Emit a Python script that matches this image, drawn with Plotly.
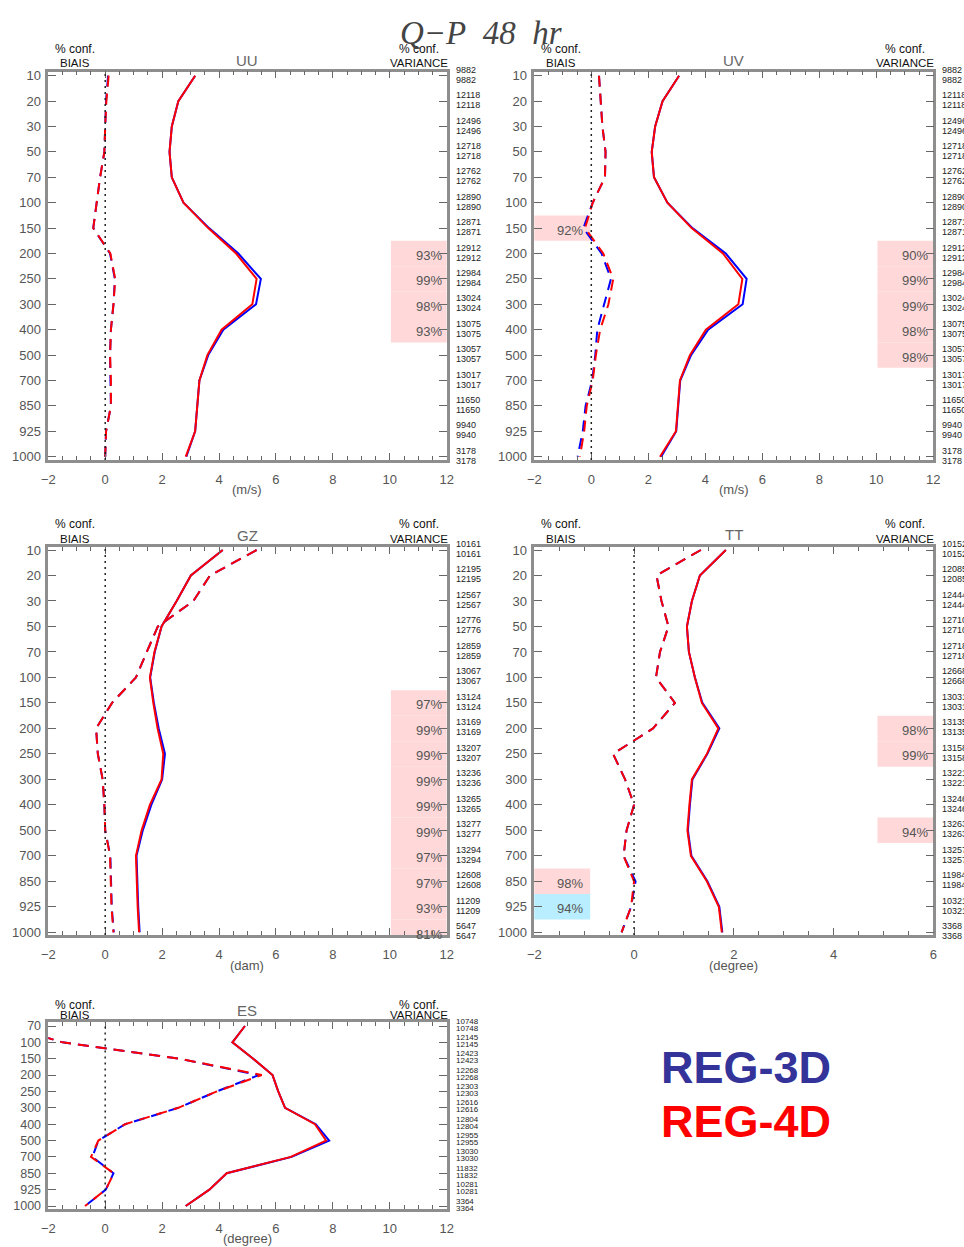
import plotly.graph_objects as go

W, H = 964, 1247

# ---------------- data ----------------
levels = [10, 20, 30, 50, 70, 100, 150, 200, 250, 300, 400, 500, 700, 850, 925, 1000]
es_levels = [70, 100, 150, 200, 250, 300, 400, 500, 700, 850, 925, 1000]

uu_std_3d = [3.16, 2.57, 2.34, 2.26, 2.34, 2.75, 3.65, 4.68, 5.47, 5.30, 4.15, 3.62, 3.31, 3.24, 3.16, 2.85]
uu_std_4d = [3.16, 2.57, 2.34, 2.26, 2.34, 2.75, 3.62, 4.60, 5.32, 5.17, 4.09, 3.59, 3.31, 3.24, 3.16, 2.83]
uu_bias_3d = [0.10, 0.03, 0.00, -0.03, -0.18, -0.30, -0.42, 0.17, 0.34, 0.29, 0.20, 0.17, 0.19, 0.20, 0.03, 0.00]
uu_bias_4d = [0.12, 0.04, 0.00, -0.03, -0.18, -0.30, -0.42, 0.18, 0.35, 0.29, 0.20, 0.17, 0.20, 0.20, 0.03, 0.00]
uu_counts = [9882, 12118, 12496, 12718, 12762, 12890, 12871, 12912, 12984, 13024, 13075, 13057, 13017, 11650, 9940, 3178]
uu_var_sig_levels = [200, 250, 300, 400]
uu_var_sig_pct = [93, 99, 98, 93]
uu_bias_sig_levels = []
uu_bias_sig_pct = []
uu_bias_sig_sign = []

uv_std_3d = [3.08, 2.50, 2.24, 2.12, 2.20, 2.67, 3.55, 4.72, 5.45, 5.31, 4.10, 3.50, 3.12, 3.05, 2.98, 2.45]
uv_std_4d = [3.08, 2.50, 2.24, 2.12, 2.20, 2.67, 3.52, 4.62, 5.30, 5.16, 4.02, 3.46, 3.11, 3.05, 2.97, 2.41]
uv_bias_3d = [0.27, 0.33, 0.39, 0.50, 0.48, 0.05, -0.28, 0.36, 0.69, 0.45, 0.21, 0.14, 0.03, -0.20, -0.30, -0.48]
uv_bias_4d = [0.27, 0.33, 0.39, 0.50, 0.48, 0.05, -0.22, 0.42, 0.77, 0.60, 0.31, 0.16, 0.05, -0.16, -0.25, -0.40]
uv_counts = [9882, 12118, 12496, 12718, 12762, 12890, 12871, 12912, 12984, 13024, 13075, 13057, 13017, 11650, 9940, 3178]
uv_var_sig_levels = [200, 250, 300, 400, 500]
uv_var_sig_pct = [90, 99, 99, 98, 98]
uv_bias_sig_levels = [150]
uv_bias_sig_pct = [92]
uv_bias_sig_sign = ["+"]

gz_std_3d = [4.13, 3.01, 2.51, 1.98, 1.74, 1.58, 1.71, 1.88, 2.10, 2.00, 1.62, 1.32, 1.10, 1.12, 1.16, 1.21]
gz_std_4d = [4.13, 3.01, 2.51, 1.98, 1.73, 1.57, 1.69, 1.84, 2.04, 1.98, 1.57, 1.28, 1.08, 1.10, 1.14, 1.19]
gz_bias_3d = [5.32, 3.68, 3.10, 1.85, 1.46, 1.08, 0.24, -0.32, -0.26, -0.09, -0.03, 0.00, 0.18, 0.21, 0.23, 0.30]
gz_bias_4d = [5.32, 3.68, 3.10, 1.85, 1.46, 1.08, 0.24, -0.32, -0.26, -0.09, -0.03, 0.00, 0.17, 0.20, 0.22, 0.29]
gz_counts = [10161, 12195, 12567, 12776, 12859, 13067, 13124, 13169, 13207, 13236, 13265, 13277, 13294, 12608, 11209, 5647]
gz_var_sig_levels = [150, 200, 250, 300, 400, 500, 700, 850, 925, 1000]
gz_var_sig_pct = [97, 99, 99, 99, 99, 99, 97, 97, 93, 81]
gz_bias_sig_levels = []
gz_bias_sig_pct = []
gz_bias_sig_sign = []

tt_std_3d = [1.84, 1.32, 1.16, 1.06, 1.10, 1.22, 1.37, 1.71, 1.47, 1.17, 1.12, 1.08, 1.15, 1.47, 1.71, 1.77]
tt_std_4d = [1.84, 1.32, 1.16, 1.06, 1.10, 1.22, 1.36, 1.69, 1.46, 1.16, 1.11, 1.07, 1.14, 1.46, 1.70, 1.76]
tt_bias_3d = [1.34, 0.45, 0.55, 0.69, 0.52, 0.44, 0.82, 0.38, -0.42, -0.18, 0.00, -0.15, -0.21, 0.03, -0.06, -0.25]
tt_bias_4d = [1.34, 0.45, 0.55, 0.69, 0.52, 0.44, 0.82, 0.38, -0.42, -0.18, 0.00, -0.15, -0.21, 0.00, -0.06, -0.25]
tt_counts = [10152, 12085, 12444, 12710, 12718, 12668, 13031, 13135, 13158, 13221, 13246, 13263, 13257, 11984, 10321, 3368]
tt_var_sig_levels = [200, 250, 500]
tt_var_sig_pct = [98, 99, 94]
tt_bias_sig_levels = [850, 925]
tt_bias_sig_pct = [98, 94]
tt_bias_sig_sign = ["+", "-"]

es_std_3d = [4.91, 4.47, 5.20, 5.88, 6.08, 6.32, 7.40, 7.87, 6.55, 4.27, 3.66, 2.83]
es_std_4d = [4.91, 4.47, 5.20, 5.88, 6.08, 6.32, 7.37, 7.76, 6.52, 4.27, 3.66, 2.83]
es_bias_3d = [-3.4, -1.5, 2.6, 5.4, 3.92, 2.57, 0.70, -0.24, -0.45, 0.29, 0.02, -0.71]
es_bias_4d = [-3.4, -1.5, 2.6, 5.5, 3.92, 2.57, 0.70, -0.24, -0.50, 0.30, 0.02, -0.71]
es_counts = [10748, 12145, 12423, 12268, 12303, 12616, 12804, 12955, 13030, 11832, 10281, 3364]
es_var_sig_levels = []
es_var_sig_pct = []
es_bias_sig_levels = []
es_bias_sig_pct = []
es_bias_sig_sign = []

x_ticks_wide = [-2, 0, 2, 4, 6, 8, 10, 12]
x_ticks_tt = [-2, 0, 2, 4, 6]

# ---------------- styles / layout ----------------
BLUE = "#0000FF"
RED = "#FF0000"
PINK = "#FFD9D9"
CYAN = "#B8EEFF"
AXC = "#8E8E8E"
TXT = "#555555"
FONT = "Liberation Sans"

panels = [
    dict(name="UU", unit="(m/s)", levels=levels, xticks=x_ticks_wide,
         std3=uu_std_3d, std4=uu_std_4d, b3=uu_bias_3d, b4=uu_bias_4d, counts=uu_counts,
         vs=uu_var_sig_levels, vp=uu_var_sig_pct, bs=uu_bias_sig_levels, bp=uu_bias_sig_pct, bsg=uu_bias_sig_sign,
         frame=(48.3, 71.7, 446.7, 460.0), lvl=(75.7, 456.7), hdr=(49, 63, 60), unit_y=489, cfs=9),
    dict(name="UV", unit="(m/s)", levels=levels, xticks=x_ticks_wide,
         std3=uv_std_3d, std4=uv_std_4d, b3=uv_bias_3d, b4=uv_bias_4d, counts=uv_counts,
         vs=uv_var_sig_levels, vp=uv_var_sig_pct, bs=uv_bias_sig_levels, bp=uv_bias_sig_pct, bsg=uv_bias_sig_sign,
         frame=(534.3, 71.7, 933.3, 460.0), lvl=(75.7, 456.7), hdr=(49, 63, 60), unit_y=489, cfs=9),
    dict(name="GZ", unit="(dam)", levels=levels, xticks=x_ticks_wide,
         std3=gz_std_3d, std4=gz_std_4d, b3=gz_bias_3d, b4=gz_bias_4d, counts=gz_counts,
         vs=gz_var_sig_levels, vp=gz_var_sig_pct, bs=gz_bias_sig_levels, bp=gz_bias_sig_pct, bsg=gz_bias_sig_sign,
         frame=(48.3, 547.3, 446.7, 935.0), lvl=(550.0, 932.3), hdr=(524, 539, 535), unit_y=965, cfs=9),
    dict(name="TT", unit="(degree)", levels=levels, xticks=x_ticks_tt,
         std3=tt_std_3d, std4=tt_std_4d, b3=tt_bias_3d, b4=tt_bias_4d, counts=tt_counts,
         vs=tt_var_sig_levels, vp=tt_var_sig_pct, bs=tt_bias_sig_levels, bp=tt_bias_sig_pct, bsg=tt_bias_sig_sign,
         frame=(534.3, 547.3, 933.3, 935.0), lvl=(550.0, 932.3), hdr=(524, 539, 534), unit_y=965, cfs=9),
    dict(name="ES", unit="(degree)", levels=es_levels, xticks=x_ticks_wide,
         std3=es_std_3d, std4=es_std_4d, b3=es_bias_3d, b4=es_bias_4d, counts=es_counts,
         vs=es_var_sig_levels, vp=es_var_sig_pct, bs=es_bias_sig_levels, bp=es_bias_sig_pct, bsg=es_bias_sig_sign,
         frame=(48.3, 1022.3, 446.7, 1208.5), lvl=(1026.0, 1206.0), hdr=(1005, 1015, 1010), unit_y=1238, cfs=8),
]


def px(xp):
    return xp / W


def py(yp):
    return 1 - yp / H


fig = go.Figure()
layout = dict(width=W, height=H, margin=dict(l=0, r=0, t=0, b=0, pad=0, autoexpand=False),
              paper_bgcolor="white", plot_bgcolor="white", showlegend=False)
shapes = []
annotations = []

for i, p in enumerate(panels):
    n = i + 1
    xa = "x" if n == 1 else f"x{n}"
    ya = "y" if n == 1 else f"y{n}"
    xkey = "xaxis" if n == 1 else f"xaxis{n}"
    ykey = "yaxis" if n == 1 else f"yaxis{n}"
    lv = p["levels"]
    nl = len(lv)
    idx = list(range(nl))
    x0, y0, x1, y1 = p["frame"]
    l0, l1 = p["lvl"]
    per = (l1 - l0) / (nl - 1)
    rtop = -(l0 - y0) / per
    rbot = (nl - 1) + (y1 - l1) / per
    xr = (p["xticks"][0], p["xticks"][-1])

    layout[xkey] = dict(domain=[px(x0), px(x1)], anchor=ya, range=list(xr),
                        tickvals=p["xticks"], ticks="inside", ticklen=7, tickwidth=1.2, tickcolor="#666",
                        minor=dict(dtick=0.5, tick0=-2, ticks="inside", ticklen=4, tickcolor="#666", tickwidth=1),
                        showline=True, linecolor=AXC, linewidth=2.5, mirror="ticks",
                        showgrid=False, zeroline=False, ticklabelstandoff=6,
                        tickfont=dict(family=FONT, size=13, color=TXT))
    layout[ykey] = dict(domain=[py(y1), py(y0)], anchor=xa, range=[rbot, rtop],
                        tickvals=idx, ticktext=[str(v) for v in lv], ticks="inside", ticklen=8,
                        tickwidth=1.2, tickcolor="#666",
                        showline=True, linecolor=AXC, linewidth=2.5, mirror="ticks",
                        showgrid=False, zeroline=False, ticklabelstandoff=2,
                        tickfont=dict(family=FONT, size=13 if nl > 12 else 12.5, color=TXT))

    xdom = "x domain" if n == 1 else f"x{n} domain"
    ydom = "y domain" if n == 1 else f"y{n} domain"

    # significance boxes (variance on right, bias on left)
    for lvl_v, pct in zip(p["vs"], p["vp"]):
        k = lv.index(lvl_v)
        shapes.append(dict(type="rect", xref=xdom, yref=ya, x0=0.86, x1=1.0,
                           y0=max(k - 0.5, rtop), y1=min(k + 0.5, rbot),
                           fillcolor=PINK, line=dict(width=0), layer="below"))
        annotations.append(dict(xref=xdom, yref=ya, x=1.0, y=k, xanchor="right", yanchor="middle",
                                xshift=-3, yshift=-2, text=f"{pct}%", showarrow=False,
                                font=dict(family=FONT, size=13, color=TXT)))
    for lvl_v, pct, sg in zip(p["bs"], p["bp"], p["bsg"]):
        k = lv.index(lvl_v)
        shapes.append(dict(type="rect", xref=xdom, yref=ya, x0=0.0, x1=0.14,
                           y0=max(k - 0.5, rtop), y1=min(k + 0.5, rbot),
                           fillcolor=PINK if sg == "+" else CYAN, line=dict(width=0), layer="below"))
        annotations.append(dict(xref=xdom, yref=ya, x=0.14, y=k, xanchor="right", yanchor="middle",
                                xshift=-5, yshift=-2, text=f"{pct}%", showarrow=False,
                                font=dict(family=FONT, size=13, color=TXT)))

    # zero reference line
    shapes.append(dict(type="line", xref=xa, yref=ydom, x0=0, x1=0, y0=0, y1=1,
                       line=dict(color="#222", width=1.5, dash="2px,4px"), layer="above"))

    # bias (dashed) and std (solid)
    for vals, col in [(p["b3"], BLUE), (p["b4"], RED)]:
        fig.add_trace(go.Scatter(x=vals, y=idx, mode="lines", xaxis=xa, yaxis=ya,
                                 line=dict(color=col, width=2, dash="11px,7px"), hoverinfo="skip"))
    for vals, col in [(p["std3"], BLUE), (p["std4"], RED)]:
        fig.add_trace(go.Scatter(x=vals, y=idx, mode="lines", xaxis=xa, yaxis=ya,
                                 line=dict(color=col, width=2), hoverinfo="skip"))

    # counts on right side
    cfs = p["cfs"]
    up, dn = (6, -4) if nl > 12 else (5, -2)
    for k, c in enumerate(p["counts"]):
        for sh in (up, dn):
            annotations.append(dict(xref=xdom, yref=ya, x=1.0, y=k, xanchor="left", yanchor="middle",
                                    xshift=7, yshift=sh, text=str(c), showarrow=False,
                                    font=dict(family=FONT, size=cfs, color="#222")))

    # headers
    hy1, hy2, ty = p["hdr"]
    hfont = dict(family=FONT, size=12, color="#111")
    annotations += [
        dict(xref="paper", yref="paper", x=px(x0 + 27), y=py(hy1), text="%\u00a0conf.", showarrow=False,
             xanchor="center", yanchor="middle", font=hfont),
        dict(xref="paper", yref="paper", x=px(x0 + 27), y=py(hy2), text="BIAIS", showarrow=False,
             xanchor="center", yanchor="middle", font=dict(family=FONT, size=11.5, color="#111")),
        dict(xref="paper", yref="paper", x=px(x1 - 28), y=py(hy1), text="%\u00a0conf.", showarrow=False,
             xanchor="center", yanchor="middle", font=hfont),
        dict(xref="paper", yref="paper", x=px(x1 - 28), y=py(hy2), text="VARIANCE", showarrow=False,
             xanchor="center", yanchor="middle", font=dict(family=FONT, size=11.5, color="#111")),
        dict(xref="paper", yref="paper", x=px((x0 + x1) / 2), y=py(ty), text=p["name"], showarrow=False,
             xanchor="center", yanchor="middle", font=dict(family=FONT, size=15, color="#666")),
        dict(xref="paper", yref="paper", x=px((x0 + x1) / 2), y=py(p["unit_y"]), text=p["unit"],
             showarrow=False, xanchor="center", yanchor="middle",
             font=dict(family=FONT, size=13, color=TXT)),
    ]

# main title
annotations.append(dict(xref="paper", yref="paper", x=px(481), y=py(33),
                        text="<i>Q\u2212P\u00a0\u00a048\u00a0\u00a0hr</i>", showarrow=False,
                        xanchor="center", yanchor="middle",
                        font=dict(family="Liberation Serif", size=33, color="#444")))
# experiment labels
annotations.append(dict(xref="paper", yref="paper", x=px(746), y=py(1067), text="<b>REG-3D</b>",
                        showarrow=False, xanchor="center", yanchor="middle",
                        font=dict(family=FONT, size=45, color="#333399")))
annotations.append(dict(xref="paper", yref="paper", x=px(746), y=py(1121), text="<b>REG-4D</b>",
                        showarrow=False, xanchor="center", yanchor="middle",
                        font=dict(family=FONT, size=45, color="#FF0000")))

layout["shapes"] = shapes
layout["annotations"] = annotations
fig.update_layout(**layout)
fig.update_traces(showlegend=False)
fig.write_html("out.html", config={"displayModeBar": False},
               post_script="document.body.style.margin='0';document.body.style.overflow='hidden';")
